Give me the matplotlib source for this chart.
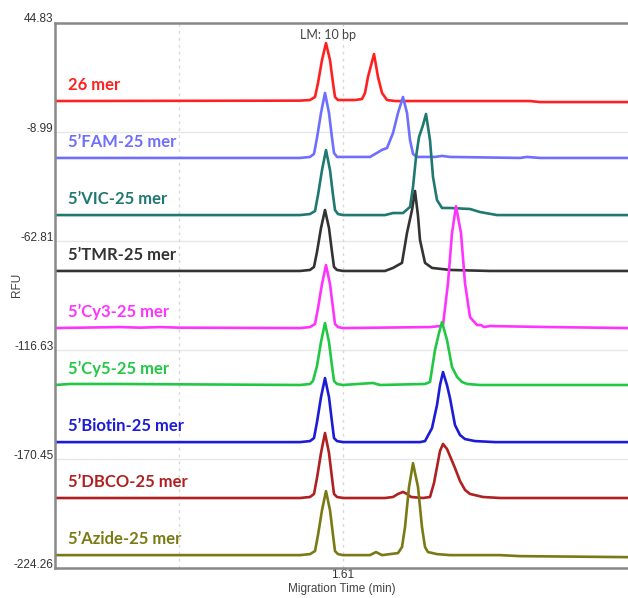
import matplotlib.pyplot as plt
from matplotlib import transforms

# trace names, colours and vertical offsets (RFU)
names = ['26 mer', '5’FAM-25 mer', '5’VIC-25 mer', '5’TMR-25 mer', '5’Cy3-25 mer',
         '5’Cy5-25 mer', '5’Biotin-25 mer', '5’DBCO-25 mer', '5’Azide-25 mer']
colors = ['#ff2020', '#6e6eff', '#1f7872', '#333333', '#ff33ff',
          '#22c844', '#1c1cd6', '#b02020', '#7a7a14']
baselines = [6.3, -21.8, -50.0, -77.6, -105.8, -133.9, -162.1, -189.7, -217.9]

# migration time (min) and signal above baseline (RFU)
t_26mer = [1.466, 1.5885, 1.5935, 1.596, 1.5975, 1.5995, 1.6015, 1.6035, 1.605, 1.606, 1.6075, 1.61,
           1.616, 1.6195, 1.621, 1.6225, 1.6255, 1.6275, 1.6295, 1.632, 1.636, 1.7035, 1.7085, 1.7525]
h_26mer = [0, 0.2, 0.5, 2.0, 8.9, 20.2, 28.6, 20.2, 8.9, 2.0, 0.5, 0.5,
           0.5, 1.0, 4.0, 11.9, 23.2, 11.9, 4.0, 0.5, 0, 0, -0.5, -0.5]

t_fam = [1.466, 1.5885, 1.5935, 1.5955, 1.597, 1.599, 1.601, 1.603, 1.6045, 1.6055, 1.607, 1.61,
         1.6235, 1.627, 1.6295, 1.632, 1.635, 1.6375, 1.64, 1.642, 1.6435, 1.645, 1.647, 1.656,
         1.6595, 1.6635, 1.6985, 1.702, 1.7085, 1.7525]
h_fam = [0, 0, 0.5, 2.0, 9.9, 22.2, 32.1, 22.2, 9.9, 2.5, 0.5, 0.5,
         0.5, 2.5, 4.0, 4.9, 12.3, 22.2, 30.1, 22.2, 8.9, 2.0, 0.5, 0.5,
         1.0, 0.5, 0, 0.5, 0, 0]

t_vic = [1.466, 1.5885, 1.5935, 1.596, 1.5975, 1.5995, 1.6015, 1.6035, 1.605, 1.606, 1.6075, 1.61,
         1.631, 1.635, 1.64, 1.6435, 1.645, 1.6465, 1.648, 1.65, 1.6515, 1.6535, 1.655, 1.657,
         1.6595, 1.6635, 1.6735, 1.6785, 1.687, 1.7525]
h_vic = [0, 0, 0.5, 2.0, 9.9, 22.2, 32.1, 22.2, 9.9, 2.5, 0.5, 0,
         0, 1.0, 1.0, 4.0, 13.8, 28.6, 38.5, 44.4, 49.9, 37.0, 18.8, 7.4,
         3.5, 3.5, 3.0, 1.5, 0, 0]

t_tmr = [1.466, 1.5885, 1.5935, 1.5955, 1.597, 1.599, 1.601, 1.603, 1.6045, 1.6055, 1.607, 1.61,
         1.631, 1.635, 1.6395, 1.642, 1.6445, 1.646, 1.6475, 1.6485, 1.651, 1.6545, 1.6635,
         1.6835, 1.7525]
h_tmr = [0, 0, 0.5, 2.0, 9.4, 21.2, 30.1, 21.2, 9.4, 2.0, 0.5, 0,
         0, 1.5, 4.0, 18.8, 30.1, 39.5, 27.2, 15.3, 4.0, 1.5, 0.5,
         0, 0]

t_cy3 = [1.466, 1.4985, 1.5085, 1.5185, 1.5285, 1.5885, 1.5935, 1.596, 1.5975, 1.5995, 1.6015,
         1.6035, 1.605, 1.606, 1.6075, 1.61, 1.6535, 1.6585, 1.66, 1.6625, 1.6645, 1.6665, 1.669,
         1.671, 1.6735, 1.677, 1.679, 1.6805, 1.6835, 1.7135, 1.7525]
h_cy3 = [0, 0.5, 0.2, 0.5, 0.2, 0, 0.5, 2.0, 9.9, 21.7, 31.1,
         21.7, 9.9, 2.0, 0.5, 0, 0.5, 1.0, 1.5, 22.2, 46.9, 60.2, 46.9,
         22.2, 5.4, 1.5, 1.5, 0.5, 1.0, 0.5, 0]

t_cy5 = [1.466, 1.4735, 1.4835, 1.4985, 1.5885, 1.5935, 1.595, 1.597, 1.599, 1.601, 1.603,
         1.6045, 1.6055, 1.607, 1.61, 1.625, 1.6285, 1.651, 1.6535, 1.656, 1.658, 1.6595, 1.662,
         1.6645, 1.667, 1.6695, 1.672, 1.6785, 1.7525]
h_cy5 = [0, 0.5, 0.5, 0.5, 0, 0.5, 2.0, 9.4, 21.2, 30.6, 21.2,
         9.4, 2.0, 0.5, 0, 1.0, 0, 0.5, 1.5, 17.3, 25.7, 31.1, 22.2,
         8.9, 4.0, 1.5, 0.5, 0, 0]

t_biotin = [1.466, 1.5885, 1.5935, 1.5955, 1.597, 1.599, 1.601, 1.603, 1.6045, 1.6055, 1.607, 1.61,
            1.6485, 1.651, 1.6545, 1.657, 1.6585, 1.66, 1.662, 1.6635, 1.666, 1.6685, 1.671, 1.676,
            1.686, 1.7525]
h_biotin = [0, 0, 0.5, 2.0, 9.9, 22.2, 31.6, 22.2, 9.9, 2.0, 0.5, 0,
            0, 0.5, 6.9, 18.3, 28.1, 34.6, 28.1, 21.7, 8.4, 3.5, 1.5, 0.5,
            0, 0]

t_dbco = [1.466, 1.5885, 1.5935, 1.5955, 1.597, 1.599, 1.601, 1.603, 1.6045, 1.6055, 1.607, 1.61,
          1.631, 1.635, 1.6375, 1.64, 1.642, 1.644, 1.65, 1.6535, 1.6555, 1.657, 1.6585, 1.66,
          1.662, 1.6635, 1.666, 1.6685, 1.671, 1.6735, 1.68, 1.6885, 1.7525]
h_dbco = [0, 0, 0.5, 2.0, 9.9, 22.2, 32.1, 22.2, 9.9, 2.0, 0.5, 0,
          0, 0.5, 2.0, 3.0, 2.0, 0.5, 0, 0.5, 7.4, 15.3, 23.2, 26.7,
          24.2, 20.7, 14.8, 8.4, 4.0, 2.0, 0.5, 0, 0]

t_azide = [1.466, 1.5885, 1.5935, 1.596, 1.5975, 1.5995, 1.6015, 1.6035, 1.605, 1.606, 1.6075, 1.61,
           1.6235, 1.6265, 1.6295, 1.6375, 1.6395, 1.641, 1.643, 1.645, 1.6475, 1.6495, 1.651,
           1.6525, 1.657, 1.6635, 1.6885, 1.6985, 1.7525]
h_azide = [0, 0, 0.5, 2.0, 9.9, 22.2, 31.6, 22.2, 9.9, 2.0, 0.5, 0,
           0, 1.5, 0, 1.0, 4.0, 13.8, 33.6, 45.4, 33.6, 13.8, 4.0,
           1.5, 0.5, 0, 0, -0.5, -1.0]

times = [t_26mer, t_fam, t_vic, t_tmr, t_cy3, t_cy5, t_biotin, t_dbco, t_azide]
signals = [h_26mer, h_fam, h_vic, h_tmr, h_cy3, h_cy5, h_biotin, h_dbco, h_azide]

y_ticks = [44.83, -8.99, -62.81, -116.63, -170.45, -224.26]
x_grid = [1.528, 1.61]
x_ticks = [1.61]

fig = plt.figure(figsize=(6.28, 5.98), dpi=100)
ax = fig.add_axes([55 / 628, 30 / 598, 1 - 55 / 628, 545 / 598])

for t, h, base, c in zip(times, signals, baselines, colors):
    ax.plot(t, [base + v for v in h], color=c, lw=1.9, solid_joinstyle='round')

for name, base, c in zip(names, baselines, colors):
    ax.text(1.4725, base + 7.9, name, color=c, fontsize=12, fontweight='bold',
            family='Lato', va='center', ha='left')

ax.text(1.6025, 38.9, 'LM: 10 bp', color='#444444', fontsize=9, family='Lato',
        ha='center', va='center')

ax.set_xlim(1.466, 1.7525)
ax.set_ylim(-224.26, 44.83)
ax.set_yticks(y_ticks)
ax.set_yticklabels(['%.2f' % v for v in y_ticks])
ax.set_xticks(x_ticks)
ax.set_xticklabels(['1.61'])

for v in y_ticks:
    ax.axhline(v, color='#e6e6e6', lw=1, zorder=0)
for v in x_grid:
    ax.axvline(v, color='#d8d8d8', lw=1, ls=(0, (2, 3)), zorder=0)

ax.tick_params(length=0, pad=1, labelsize=8.5, labelcolor='#333333')
for lab in ax.get_xticklabels() + ax.get_yticklabels():
    lab.set_family('Liberation Sans')
shift = transforms.ScaledTranslation(0, 0.05, fig.dpi_scale_trans)
for lab in ax.get_yticklabels():
    lab.set_transform(lab.get_transform() + shift)

for s in ['left', 'top', 'bottom']:
    ax.spines[s].set_color('#888888')
    ax.spines[s].set_linewidth(1.8)
ax.spines['right'].set_visible(False)

ax.set_ylabel('RFU', fontsize=8.5, color='#444444', family='Liberation Sans')
ax.yaxis.set_label_coords(-0.055, 0.52)
ax.set_xlabel('Migration Time (min)', fontsize=8.5, color='#444444',
              family='Liberation Sans', labelpad=1)

fig.savefig('out.png', dpi=100)
